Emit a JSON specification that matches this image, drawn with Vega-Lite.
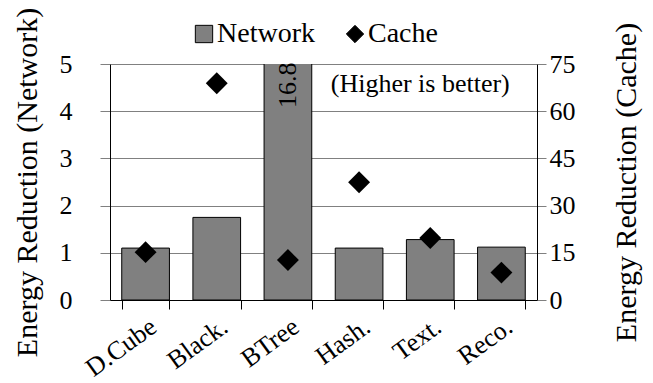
{
  "$schema": "https://vega.github.io/schema/vega-lite/v6.json",
  "autosize": {"type": "none"},
  "width": 427,
  "height": 236,
  "padding": {"left": 110, "top": 64, "right": 116, "bottom": 83},
  "background": "white",
  "config": {
    "font": "Liberation Serif",
    "view": {"stroke": null}
  },
  "data": {
    "values": [
      {"bench": "D.Cube", "network": 1.1, "cache": 15.2, "series_n": "Network", "series_c": "Cache"},
      {"bench": "Black.", "network": 1.75, "cache": 68.9, "series_n": "Network", "series_c": "Cache"},
      {"bench": "BTree", "network": 16.8, "cache": 12.7, "series_n": "Network", "series_c": "Cache"},
      {"bench": "Hash.", "network": 1.1, "cache": 37.4, "series_n": "Network", "series_c": "Cache"},
      {"bench": "Text.", "network": 1.28, "cache": 19.7, "series_n": "Network", "series_c": "Cache"},
      {"bench": "Reco.", "network": 1.12, "cache": 8.7, "series_n": "Network", "series_c": "Cache"}
    ]
  },
  "encoding": {
    "x": {
      "field": "bench", "type": "nominal", "sort": null,
      "scale": {"paddingInner": 0.33, "paddingOuter": 0.165},
      "axis": {"title": null, "labelFont": "Liberation Serif", "labelFontSize": 26, "labelColor": "black", "labelAngle": -36, "labelAlign": "right", "labelBaseline": "top", "labelPadding": 4, "tickBand": "extent", "tickSize": 9, "tickColor": "black", "domainColor": "black", "grid": false}
    }
  },
  "layer": [
    {
      "layer": [
        {
          "mark": {"type": "bar", "clip": true, "stroke": "black", "strokeWidth": 1},
          "encoding": {
            "y": {"field": "network", "type": "quantitative", "scale": {"domain": [0, 5]},
              "axis": {"title": "Energy Reduction (Network)", "titleFont": "Liberation Serif", "titleFontSize": 30, "titleFontWeight": "normal", "titleColor": "black", "labelFont": "Liberation Serif", "labelFontSize": 26, "labelColor": "black", "values": [0,1,2,3,4,5], "grid": true, "gridColor": "#808080", "gridOpacity": 1, "tickColor": "#808080", "tickSize": 10, "labelPadding": 28, "domainColor": "black", "titlePadding": 17}},
            "fill": {"field": "series_n", "type": "nominal", "scale": {"domain": ["Network", "Cache"], "range": ["#808080", "black"]},
              "legend": {"title": null, "orient": "none", "direction": "horizontal", "legendX": 80, "legendY": -44, "labelFont": "Liberation Serif", "labelFontSize": 28, "labelColor": "black", "symbolSize": 300, "symbolStrokeColor": "black", "symbolStrokeWidth": 1, "columnPadding": 26, "labelOffset": -1}}
          }
        },
        {
          "mark": {"type": "text", "angle": 270, "font": "Liberation Serif", "fontSize": 26, "color": "black", "align": "center", "baseline": "middle"},
          "transform": [{"filter": "datum.bench == 'BTree'"}],
          "encoding": {
            "y": {"datum": 4.55, "type": "quantitative"},
            "text": {"field": "network", "type": "quantitative", "format": ".1f"}
          }
        },
        {
          "data": {"values": [{"note": "(Higher is better)", "bench": "Text.", "pos": 4.58}]},
          "mark": {"type": "text", "font": "Liberation Serif", "fontSize": 26, "color": "black", "align": "center", "baseline": "middle", "dx": -10},
          "encoding": {
            "y": {"field": "pos", "type": "quantitative"},
            "text": {"field": "note"}
          }
        }
      ]
    },
    {
      "mark": {"type": "point", "filled": true, "size": 480, "strokeWidth": 0, "opacity": 1},
      "encoding": {
        "y": {"field": "cache", "type": "quantitative", "scale": {"domain": [0, 75]},
          "axis": {"orient": "right", "title": "Energy Reduction (Cache)", "titleFont": "Liberation Serif", "titleFontSize": 30, "titleFontWeight": "normal", "titleColor": "black", "labelFont": "Liberation Serif", "labelFontSize": 26, "labelColor": "black", "titleAngle": 270, "values": [0,15,30,45,60,75], "grid": false, "tickColor": "#808080", "tickSize": 9, "labelPadding": 3, "domainColor": "black", "titlePadding": 66}},
        "fill": {"field": "series_c", "type": "nominal"},
        "shape": {"field": "series_c", "type": "nominal", "scale": {"domain": ["Network", "Cache"], "range": ["square", "diamond"]}}
      }
    }
  ],
  "resolve": {"scale": {"y": "independent"}}
}
